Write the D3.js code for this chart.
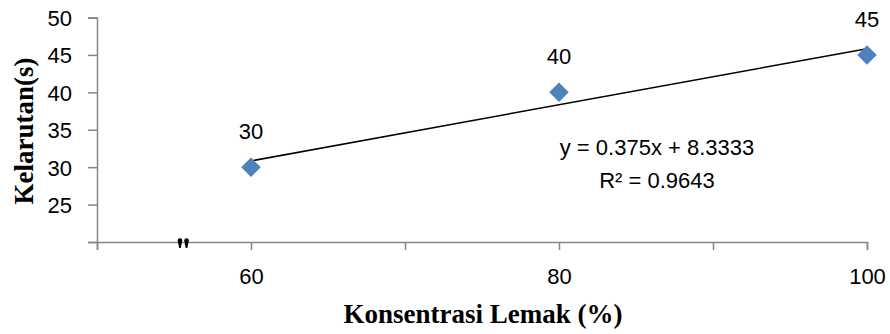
<!DOCTYPE html>
<html>
<head>
<meta charset="utf-8">
<script src="https://cdn.jsdelivr.net/npm/d3@7/dist/d3.min.js"></script>
<style>
  html, body { margin: 0; padding: 0; background: #fff; }
  svg { display: block; }
</style>
</head>
<body>
<svg id="chart" width="890" height="334"></svg>
<script>
// Fat concentration (%) vs. solubility time (s)
const concentrations = [60, 80, 100];
const solubility = [30, 40, 45];
const pointLabels = ["30", "40", "45"];

// Linear trend fitted to the points
const slope = 0.375;
const intercept = 8.3333;
const equationLines = ["y = 0.375x + 8.3333", "R\u00B2 = 0.9643"];

const xTicks = [50, 60, 70, 80, 90, 100];
const xTickLabels = ["", "60", "", "80", "", "100"];
const yTicks = [20, 25, 30, 35, 40, 45, 50];
const yTickLabels = ["", "25", "30", "35", "40", "45", "50"];

const svg = d3.select("#chart");
const axisColor = "#868686";
const numFont = "'Liberation Sans', Arial, sans-serif";
const numSize = 22;
const titleFont = "'Liberation Serif', 'Times New Roman', serif";

const x = d3.scaleLinear().domain([50, 100]).range([97, 867]);
const y = d3.scaleLinear().domain([20, 50]).range([242, 17.5]);

// Y axis
const yAxis = svg.append("g")
  .attr("transform", `translate(${x(50)},0)`)
  .call(d3.axisLeft(y).tickValues(yTicks).tickSize(9).tickPadding(16)
    .tickFormat((d, i) => yTickLabels[i]));
yAxis.select(".domain").attr("stroke", axisColor).attr("stroke-width", 1.5);
yAxis.selectAll(".tick line").attr("stroke", axisColor).attr("stroke-width", 1.5);
yAxis.selectAll(".tick text")
  .attr("font-family", numFont).attr("font-size", numSize).attr("fill", "#000")
  .attr("dy", "0.36em");

// X axis
const xAxis = svg.append("g")
  .attr("transform", `translate(0,${y(20)})`)
  .call(d3.axisBottom(x).tickValues(xTicks).tickSize(8)
    .tickFormat((d, i) => xTickLabels[i]));
xAxis.select(".domain").attr("stroke", axisColor).attr("stroke-width", 1.5);
xAxis.selectAll(".tick line").attr("stroke", axisColor).attr("stroke-width", 1.5);
xAxis.selectAll(".tick text")
  .attr("font-family", numFont).attr("font-size", numSize).attr("fill", "#000")
  .attr("y", 42).attr("dy", 0);

// Axis break mark: two small tapered strokes on the x axis
const breakMark = svg.append("g")
  .attr("transform", `translate(${x(55.6)},${y(20)})`);
const wedge = "M-2.3,-1.5 A2.3,2.3 0 0 1 2.3,-1.5 L0.8,6 L-0.8,6 Z";
[-3.3, 3.3].forEach(dx => {
  breakMark.append("path")
    .attr("d", wedge)
    .attr("transform", `translate(${dx},0)`)
    .attr("fill", "#000");
});

// Trend line
const trendX = [concentrations[0], concentrations[concentrations.length - 1]];
svg.append("line")
  .attr("x1", x(trendX[0])).attr("y1", y(slope * trendX[0] + intercept))
  .attr("x2", x(trendX[1])).attr("y2", y(slope * trendX[1] + intercept))
  .attr("stroke", "#000").attr("stroke-width", 1.5);

// Diamond markers
const diamond = d3.symbol().type(d3.symbolSquare).size(190);
svg.append("g").selectAll("path")
  .data(concentrations)
  .join("path")
  .attr("d", diamond)
  .attr("transform", (d, i) => `translate(${x(d)},${y(solubility[i])}) rotate(45)`)
  .attr("fill", "#4F81BD");

// Data labels
svg.append("g").selectAll("text")
  .data(concentrations)
  .join("text")
  .attr("x", d => x(d))
  .attr("y", (d, i) => y(solubility[i]) - 28)
  .attr("text-anchor", "middle")
  .attr("font-family", numFont).attr("font-size", numSize).attr("fill", "#000")
  .text((d, i) => pointLabels[i]);

// Regression equation
svg.append("g").selectAll("text")
  .data(equationLines)
  .join("text")
  .attr("x", 657)
  .attr("y", (d, i) => 155 + i * 33)
  .attr("text-anchor", "middle")
  .attr("font-family", numFont).attr("font-size", numSize).attr("fill", "#000")
  .text(d => d);

// Axis titles
svg.append("text")
  .attr("transform", "translate(33,131) rotate(-90)")
  .attr("text-anchor", "middle")
  .attr("font-family", titleFont).attr("font-weight", "bold")
  .attr("font-size", 27).attr("fill", "#000")
  .text("Kelarutan(s)");

svg.append("text")
  .attr("x", 483).attr("y", 323)
  .attr("text-anchor", "middle")
  .attr("font-family", titleFont).attr("font-weight", "bold")
  .attr("font-size", 27).attr("fill", "#000")
  .text("Konsentrasi Lemak (%)");
</script>
</body>
</html>
